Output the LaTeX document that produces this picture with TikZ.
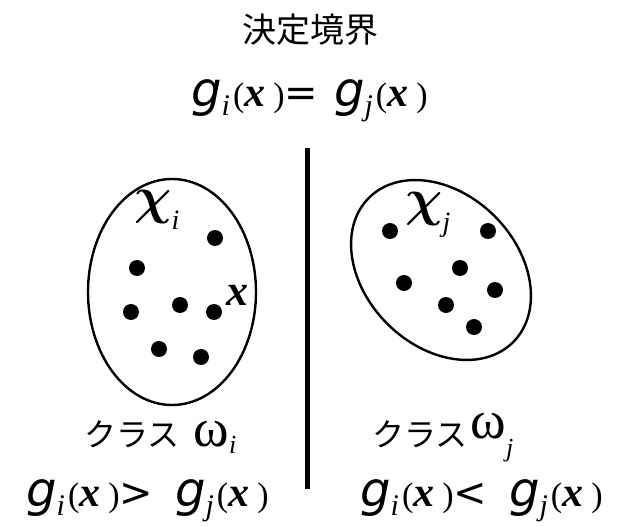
\RequirePackage{fix-cm}
\documentclass[tikz,border=0pt]{standalone}
\usepackage{bm}
\usepackage{fontspec}
\usepackage{tikz}
\usetikzlibrary{positioning}
\newfontfamily\cjkfont{Noto Sans CJK JP}
\newfontfamily\gfont{DejaVu Sans}
\newfontfamily\rmfam{Liberation Serif}
\newcommand{\fs}[1]{\fontsize{#1}{#1}\selectfont}
\newcommand{\gfn}[1]{{\gfont\itshape\fs{48}g}\raisebox{-9pt}{\rmfam\itshape\fs{30}#1}\hspace{3pt}{\rmfam\fs{34}(}{\rmfam\bfseries\itshape\fs{42}x}\hspace{8pt}{\rmfam\fs{34})}}
\newcommand{\rel}[1]{{\gfont\fs{40}#1}}
\tikzset{
  lbl/.style={inner sep=0pt, anchor=base west},
  dot/.style={circle, fill=black, inner sep=0pt, minimum size=16pt},
  region/.style={line width=2.4pt},
  boundary/.style={line width=5pt}
}

\begin{document}
\begin{tikzpicture}[x=1pt,y=-1pt]
  \useasboundingbox (0,0) rectangle (625,527);
  % decision boundary
  \node[inner sep=0pt, anchor=base] (title) at (310.5,43) {\cjkfont\fs{34}決定境界};
  \node[lbl] (eqtop) at (191,107) {\gfn{i}\rel{=}\hspace{16pt}\gfn{j}};
  \coordinate (bdtop) at (307,148);
  \coordinate (bdbot) at (307,489);
  \draw[boundary] (bdtop) -- (bdbot);
  % class i
  \draw[region] (172,292) ellipse [x radius=84pt, y radius=113pt];
  \foreach \px/\py [count=\k] in {215/238,137/268,131/312,180/305,214/312,159/349,201/357}
    \node[dot] (pi\k) at (\px,\py) {};
  \node[lbl] (chii) at (134,213) {\fs{52}$\bm{\chi}$\raisebox{-17pt}{\rmfam\itshape\fs{28}i}};
  \node[lbl] (xpt) at (226,305) {\rmfam\bfseries\itshape\fs{44}x};
  % class j
  \draw[region, rotate around={-45:(441,270)}] (441,270) ellipse [x radius=102pt, y radius=76pt];
  \foreach \px/\py [count=\k] in {390/231,488/231,460/268,404/283,495/290,446/305,474/327}
    \node[dot] (pj\k) at (\px,\py) {};
  \node[lbl] (chij) at (405,215) {\fs{52}$\bm{\chi}$\raisebox{-17pt}{\rmfam\itshape\fs{28}j}};
  % labels below
  \node[lbl] (clsi) at (84,446) {{\cjkfont\fs{32}クラス}\hspace{14pt}{\rmfam\fs{54}ω}\raisebox{-7pt}{\rmfam\itshape\fs{26}i}};
  \node[lbl] (clsj) at (372,446) {{\cjkfont\fs{32}クラス}\hspace{3pt}\raisebox{8pt}{\rmfam\fs{54}ω}\raisebox{-10pt}{\rmfam\itshape\fs{26}j}};
  \node[lbl] (ineqi) at (26,506) {\gfn{i}\rel{>}\hspace{22pt}\gfn{j}};
  \node[lbl] (ineqj) at (360,506) {\gfn{i}\rel{<}\hspace{22pt}\gfn{j}};
\end{tikzpicture}
\end{document}
